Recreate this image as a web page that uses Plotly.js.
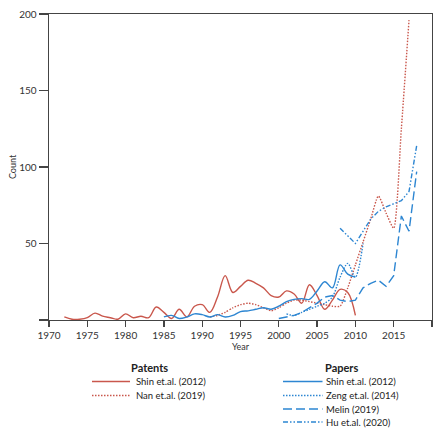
<!DOCTYPE html>
<html><head><meta charset="utf-8">
<script src="https://cdn.plot.ly/plotly-3.0.1.min.js"></script>
<style>html,body{margin:0;padding:0;background:#fff}#chart{width:441px;height:429px}</style>
</head><body><div id="chart"></div>
<script>
// ---- data ----
const patShinYears = [1972,1973,1974,1975,1976,1977,1978,1979,1980,1981,1982,1983,1984,1985,1986,1987,1988,1989,1990,1991,1992,1993,1994,1995,1996,1997,1998,1999,2000,2001,2002,2003,2004,2005,2006,2007,2008,2009,2010];
const patShinCounts = [2,0.5,0.5,1.5,4.5,2.5,1.5,0.5,4,1.5,2.5,1.5,8.5,5,1,7,2,9,10,5,15,29,18,22,26,24,21,16,15,19,17,11,23,16,7,13,20,18,3];
const patNanYears = [1991,1992,1993,1994,1995,1996,1997,1998,1999,2000,2001,2002,2003,2004,2005,2006,2007,2008,2009,2010,2011,2012,2013,2014,2015,2016,2017];
const patNanCounts = [2,3,5,8,10,11,10,8,6,8,11,13,13,12,11,10,9,9,21,36,51,66,81,70,60,125,196];
const papShinYears = [1985,1986,1987,1988,1989,1990,1991,1992,1993,1994,1995,1996,1997,1998,1999,2000,2001,2002,2003,2004,2005,2006,2007,2008,2009,2010];
const papShinCounts = [2,3,1,2,4,3.5,2,3.5,2,3,5.5,6,7,8,7,9,12,13.5,14,13.5,19,25,21,36,30,28];
const papZengYears = [2001,2002,2003,2004,2005,2006,2007,2008,2009,2010,2011];
const papZengCounts = [4,3,5,7,9,11,15,28,37,28,50];
const papMelinYears = [2000,2001,2002,2003,2004,2005,2006,2007,2008,2009,2010,2011,2012,2013,2014,2015,2016,2017,2018];
const papMelinCounts = [1,2,3,5,8,11,15,16,13,12,13,21,24,26,22,29,68,58,97];
const papHuYears = [2008,2009,2010,2011,2012,2013,2014,2015,2016,2017,2018];
const papHuCounts = [60,55,50,58,66,71,74,76,78,84,114];

const xTickVals = [1970,1975,1980,1985,1990,1995,2000,2005,2010,2015,2020];
const yTickVals = [0,50,100,150,200];
const yTickText = ['','50','100','150','200'];

const patentNames = ['Shin et.al. (2012)','Nan et.al. (2019)'];
const paperNames = ['Shin et.al. (2012)','Zeng et.al. (2014)','Melin (2019)','Hu et.al. (2020)'];

// ---- styles ----
const RED = '#c9574c', BLUE = '#2d86d2';
const DOT = '1.5px,1.5px', DASH = '9px,4px', DASHDOT = '5px,2px,1.5px,2px,1.5px,2px';
const FONT = 'Lato, "Open Sans", sans-serif';

const series = [
  {x: patShinYears, y: patShinCounts, color: RED, dash: 'solid', shape: 'spline', sm: 1},
  {x: patNanYears, y: patNanCounts, color: RED, dash: DOT, shape: 'spline', sm: 0.6},
  {x: papShinYears, y: papShinCounts, color: BLUE, dash: 'solid', shape: 'spline', sm: 1},
  {x: papZengYears, y: papZengCounts, color: BLUE, dash: DOT, shape: 'spline', sm: 0.8},
  {x: papMelinYears, y: papMelinCounts, color: BLUE, dash: DASH, shape: 'linear', sm: 0},
  {x: papHuYears, y: papHuCounts, color: BLUE, dash: DASHDOT, shape: 'linear', sm: 0}
];
const names = patentNames.concat(paperNames);

const traces = series.map((s, i) => ({
  type: 'scatter', mode: 'lines', x: s.x, y: s.y, name: names[i],
  line: {color: s.color, width: 1.4, dash: s.dash, shape: s.shape, smoothing: s.sm},
  showlegend: false, hoverinfo: 'skip'
}));

// plot area in pixels: x 49..432, y 14..320
const L = 49, R = 432, T = 14, B = 320;
const px = v => (v - L) / (R - L);
const py = v => (B - v) / (B - T);

const shapes = [], annotations = [];
const groups = [
  {title: 'Patents', cx: 149, lx0: 92, lx1: 130, tx: 134, rows: [381.5, 395.5], idx: [0, 1]},
  {title: 'Papers', cx: 341, lx0: 283, lx1: 322.5, tx: 324, rows: [381.5, 395.5, 409, 422], idx: [2, 3, 4, 5]}
];
groups.forEach(g => {
  annotations.push({xref: 'paper', yref: 'paper', x: px(g.cx), y: py(367.5), text: '<b>' + g.title + '</b>',
    showarrow: false, xanchor: 'center', yanchor: 'middle', font: {family: FONT, size: 11, color: '#222'}});
  g.idx.forEach((k, j) => {
    const s = series[k];
    shapes.push({type: 'line', xref: 'paper', yref: 'paper', x0: px(g.lx0), x1: px(g.lx1), y0: py(g.rows[j]), y1: py(g.rows[j]),
      line: {color: s.color, width: 1.4, dash: s.dash}});
    annotations.push({xref: 'paper', yref: 'paper', x: px(g.tx), y: py(g.rows[j]), text: names[k],
      showarrow: false, xanchor: 'left', yanchor: 'middle', font: {family: FONT, size: 9.5, color: '#222'}});
  });
});

const layout = {
  width: 441, height: 429,
  margin: {l: L, r: 441 - R, t: T, b: 429 - B},
  paper_bgcolor: '#fff', plot_bgcolor: '#fff',
  font: {family: FONT, size: 10, color: '#333'},
  xaxis: {range: [1970, 2020], tickvals: xTickVals, ticks: 'outside', ticklen: 6, tickwidth: 1.3, tickcolor: '#444',
    showline: true, linecolor: '#444', linewidth: 1.4, mirror: true, showgrid: false, zeroline: false,
    tickfont: {size: 10, color: '#333'}, title: {text: 'Year', font: {size: 9, color: '#333'}, standoff: 3}},
  yaxis: {range: [0, 200], tickvals: yTickVals, ticktext: yTickText, ticks: 'outside', ticklen: 9, tickwidth: 1.3, tickcolor: '#444',
    showline: true, linecolor: '#444', linewidth: 1.4, mirror: true, showgrid: false, zeroline: false,
    tickfont: {size: 10, color: '#333'}, title: {text: 'Count', font: {size: 9, color: '#333'}, standoff: 1}},
  shapes: shapes, annotations: annotations, showlegend: false
};

Plotly.newPlot('chart', traces, layout, {staticPlot: true, displayModeBar: false});
</script>
</body></html>
